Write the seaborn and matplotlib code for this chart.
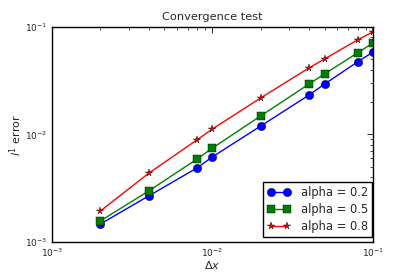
import matplotlib
matplotlib.use('Agg')
import matplotlib.pyplot as plt
import seaborn as sns
import pandas as pd

dx = [0.002, 0.004, 0.008, 0.01, 0.02, 0.04, 0.05, 0.08, 0.1]
err_02 = [0.00147, 0.00268, 0.00488, 0.0062, 0.0120, 0.0233, 0.0295, 0.0472, 0.0585]
err_05 = [0.00157, 0.00298, 0.0059, 0.00748, 0.0149, 0.0295, 0.0366, 0.0573, 0.0710]
err_08 = [0.00194, 0.00435, 0.0089, 0.01125, 0.0219, 0.0416, 0.0504, 0.0757, 0.0898]
labels = ['alpha = 0.2', 'alpha = 0.5', 'alpha = 0.8']
colors = ['#0000ff', '#008000', '#ff0000']
markers = ['o', 's', '*']
msizes = [6, 5.5, 5.5]

sns.set_style('white')
plt.rcParams['font.family'] = ['DejaVu Sans']
plt.rcParams['xtick.direction'] = 'in'
plt.rcParams['ytick.direction'] = 'in'

f = plt.figure(figsize=(4.15, 2.77), dpi=100)
ax = f.add_axes([0.125, 0.126, 0.774, 0.777])

for errs, lab, c, m, ms in zip([err_02, err_05, err_08], labels, colors, markers, msizes):
    df = pd.DataFrame({'dx': dx, 'err': errs})
    sns.lineplot(data=df, x='dx', y='err', ax=ax, color=c, marker=m, markersize=ms,
                 markeredgecolor='k', markeredgewidth=0.3, linewidth=1, label=lab)

ax.set_xscale('log')
ax.set_yscale('log')
ax.set_xlim(1e-3, 1e-1)
ax.set_ylim(1e-3, 1e-1)
ax.set_title('Convergence test', fontsize=8.2, pad=5)
ax.set_xlabel(r'$\Delta x$', fontsize=8, labelpad=0)
ax.set_ylabel(r'$l^1$ error', fontsize=8, labelpad=1)
ax.tick_params(which='both', direction='in', top=True, right=True, labelsize=6.5, color='k')
ax.tick_params(which='major', length=4, width=0.6, pad=3)
ax.tick_params(which='minor', length=2, width=0.5)
for s in ax.spines.values():
    s.set_color('k')
    s.set_linewidth(1)

ax.legend(loc='lower right', bbox_to_anchor=(1.0, 0.02), numpoints=2, fontsize=8.3,
          fancybox=False, frameon=True, edgecolor='k', framealpha=1, borderpad=0.35,
          labelspacing=0.35, handlelength=2.0, handletextpad=0.9, borderaxespad=0.1)
ax.get_legend().get_frame().set_linewidth(1)

f.savefig('out.png', dpi=100)
